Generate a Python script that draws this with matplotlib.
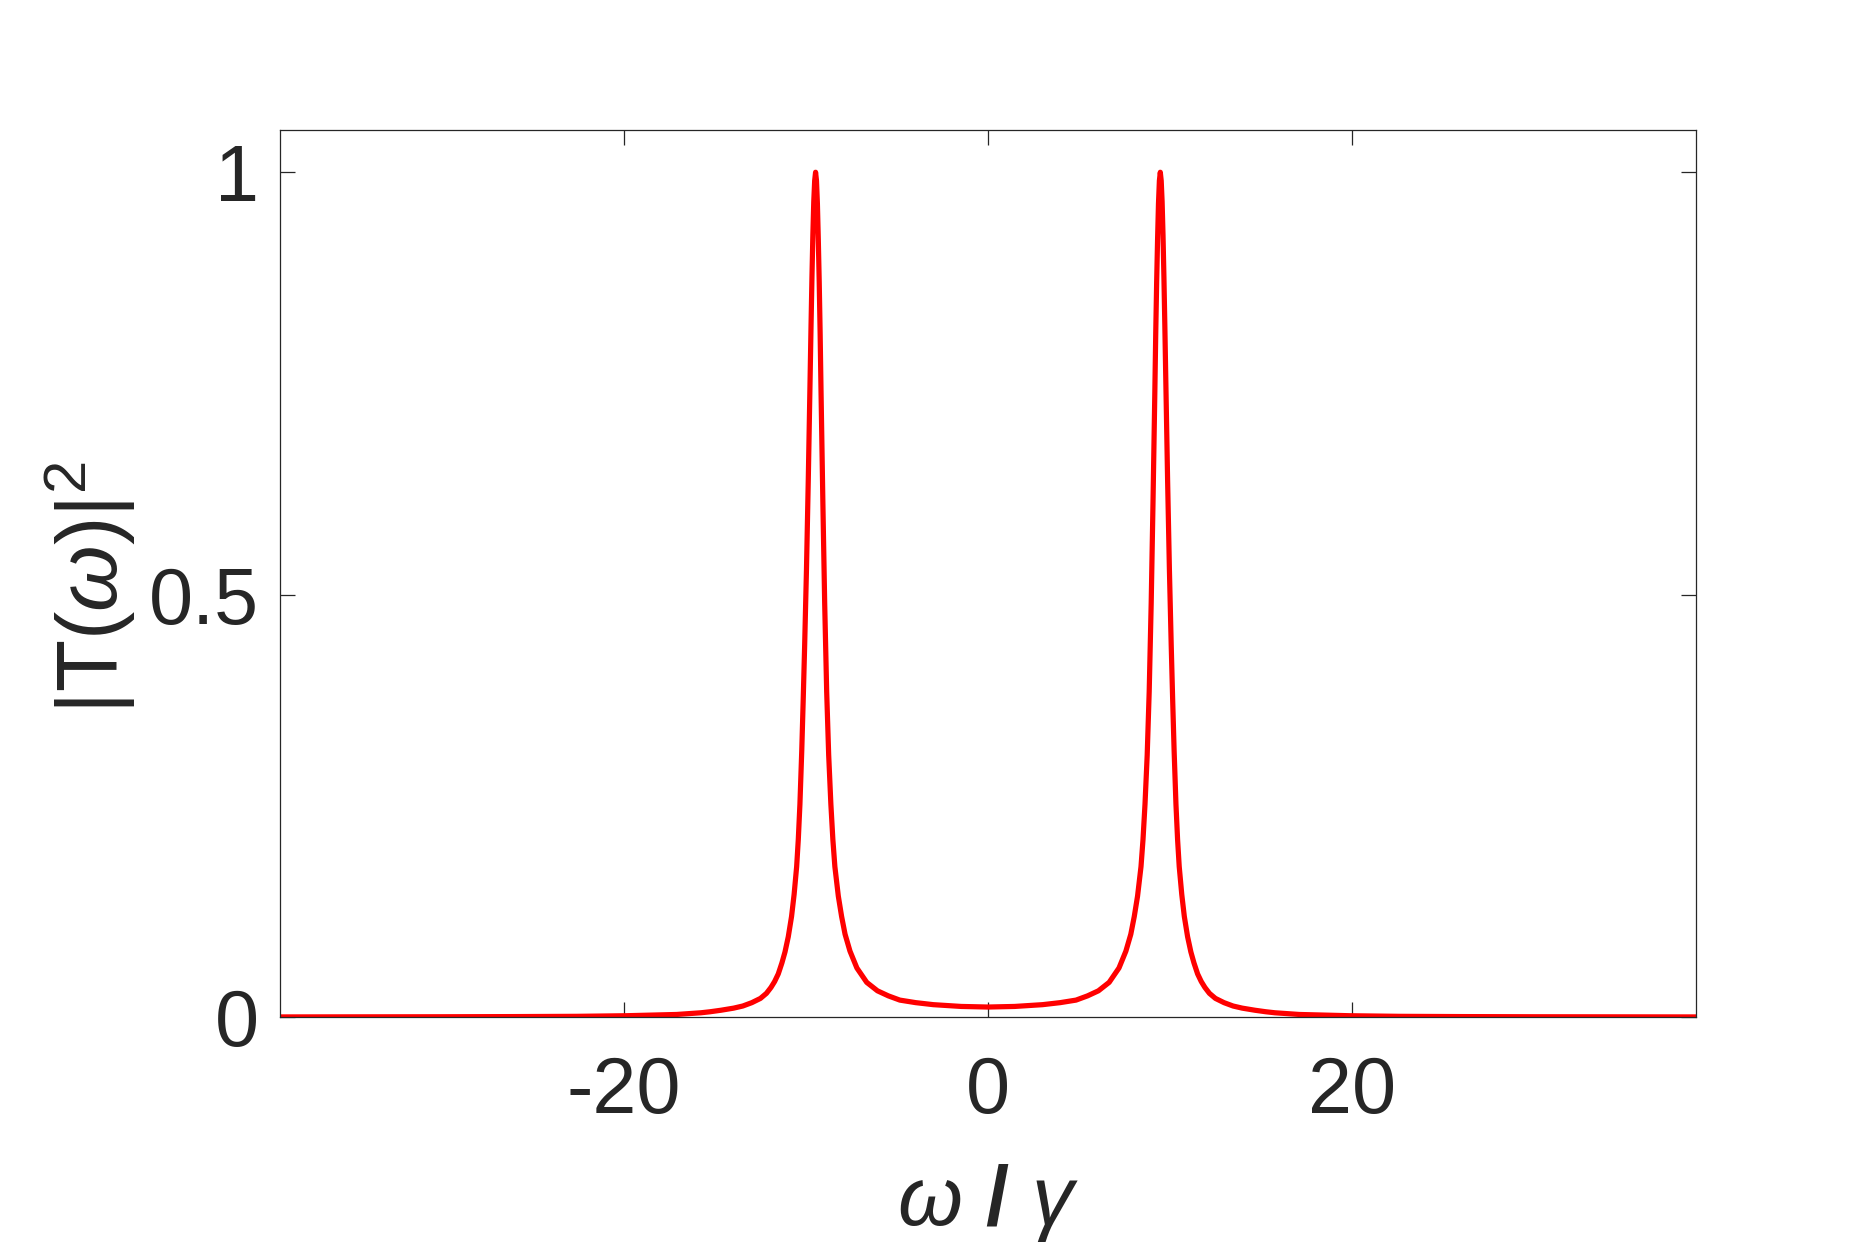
import numpy as np
import matplotlib
matplotlib.use('Agg')
import matplotlib.pyplot as plt

plt.rcParams['font.family'] = ['Liberation Sans', 'DejaVu Sans']
plt.rcParams['mathtext.fontset'] = 'custom'
plt.rcParams['mathtext.rm'] = 'Liberation Sans'
plt.rcParams['mathtext.it'] = 'Liberation Sans:italic'
plt.rcParams['mathtext.bf'] = 'Liberation Sans:bold'

# omega / gamma and |T(omega)|^2
omega = [-38.9, -35.0, -30.0, -26.0, -22.6, -19.9, -17.1, -15.77, -15.27, -14.67,
         -13.97, -13.47, -12.97, -12.5, -12.17, -11.92, -11.72, -11.52, -11.32, -11.15,
         -10.97, -10.79, -10.65, -10.51, -10.42, -10.33, -10.23, -10.15, -10.07, -9.97,
         -9.87, -9.77, -9.72, -9.67, -9.62, -9.57, -9.52, -9.47, -9.42, -9.37,
         -9.32, -9.27, -9.22, -9.17, -9.07, -8.97, -8.86, -8.75, -8.63, -8.52,
         -8.41, -8.22, -8.04, -7.85, -7.58, -7.2, -6.66, -6.07, -5.47, -4.84,
         -3.97, -3.0, -1.47,
         0.0, 1.47, 3.0, 3.97, 4.84, 5.47, 6.07, 6.66, 7.2, 7.58,
         7.85, 8.04, 8.22, 8.41, 8.52, 8.63, 8.75, 8.86, 8.97, 9.07,
         9.17, 9.22, 9.27, 9.32, 9.37, 9.42, 9.47, 9.52, 9.57, 9.62,
         9.67, 9.72, 9.77, 9.87, 9.97, 10.07, 10.15, 10.23, 10.33, 10.42,
         10.51, 10.65, 10.79, 10.97, 11.15, 11.32, 11.52, 11.72, 11.92, 12.17,
         12.5, 12.97, 13.47, 13.97, 14.67, 15.27, 15.77, 17.1, 19.9, 22.6,
         26.0, 30.0, 35.0, 38.9]
T2 = [0.0001, 0.0002, 0.0003, 0.0005, 0.0008, 0.0015, 0.003, 0.005, 0.0062, 0.008,
      0.0105, 0.013, 0.017, 0.022, 0.028, 0.035, 0.042, 0.051, 0.064, 0.077,
      0.095, 0.119, 0.145, 0.178, 0.21, 0.252, 0.315, 0.375, 0.44, 0.53,
      0.637, 0.757, 0.818, 0.875, 0.925, 0.965, 0.99, 1.0, 0.99, 0.963,
      0.92, 0.87, 0.81, 0.74, 0.61, 0.49, 0.385, 0.31, 0.252, 0.21,
      0.178, 0.143, 0.119, 0.098, 0.078, 0.058, 0.041, 0.031, 0.025, 0.020,
      0.017, 0.0146, 0.0125,
      0.0118, 0.0125, 0.0146, 0.017, 0.020, 0.025, 0.031, 0.041, 0.058, 0.078,
      0.098, 0.119, 0.143, 0.178, 0.21, 0.252, 0.31, 0.385, 0.49, 0.61,
      0.74, 0.81, 0.87, 0.92, 0.963, 0.99, 1.0, 0.99, 0.965, 0.925,
      0.875, 0.818, 0.757, 0.637, 0.53, 0.44, 0.375, 0.315, 0.252, 0.21,
      0.178, 0.145, 0.119, 0.095, 0.077, 0.064, 0.051, 0.042, 0.035, 0.028,
      0.022, 0.017, 0.013, 0.0105, 0.008, 0.0062, 0.005, 0.003, 0.0015, 0.0008,
      0.0005, 0.0003, 0.0002, 0.0001]

xticks = [-20, 0, 20]
xtick_labels = ['-20', '0', '20']
yticks = [0, 0.5, 1]
ytick_labels = ['0', '0.5', '1']

dark = '#262626'

fig = plt.figure(figsize=(12.5, 12.5 * 1250 / 1875), dpi=150)
ax = fig.add_axes([0.1493, 0.1864, 0.7552, 0.7096])

ax.plot(omega, T2, color='#ff0000', lw=2.5, solid_joinstyle='round')

ax.set_xlim(-38.9, 38.9)
ax.set_ylim(0, 1.05)
ax.set_xticks(xticks)
ax.set_xticklabels(xtick_labels)
ax.set_yticks(yticks)
ax.set_yticklabels(ytick_labels)
ax.tick_params(direction='in', length=7, width=0.6, color=dark, labelcolor=dark,
               labelsize=38, top=True, right=True)
ax.tick_params(axis='x', pad=18)
ax.tick_params(axis='y', pad=10)
for s in ax.spines.values():
    s.set_linewidth(0.6)
    s.set_color(dark)

fig.text(0.048, 0.5296, r'$|\mathrm{T}(\omega)|^2$', rotation=90, ha='center',
         va='center', fontsize=41, color=dark)
fig.text(0.527, 0.038, r'$\omega\ \mathbf{/}\ \gamma$', ha='center', va='center',
         fontsize=40, color=dark)

fig.savefig('out.png', dpi=150)
